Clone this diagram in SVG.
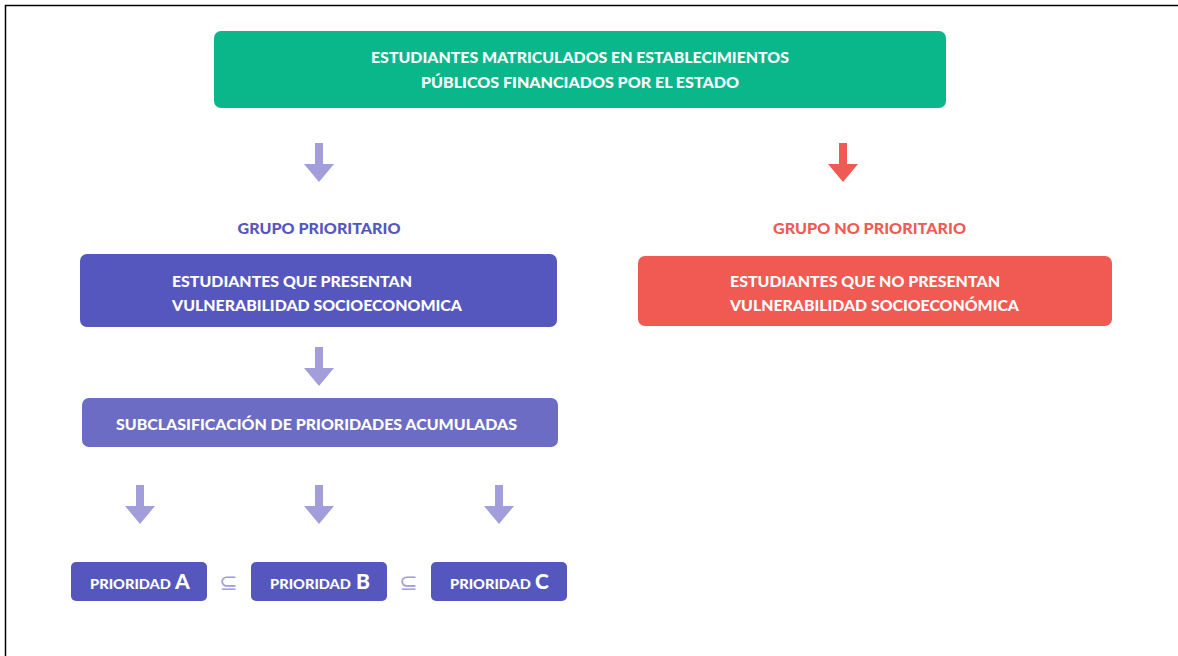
<svg xmlns="http://www.w3.org/2000/svg" width="1178" height="656" viewBox="0 0 1178 656">
<defs>
<style>
.t{font-family:Lato,"Open Sans","Liberation Sans",sans-serif;font-weight:900;fill:#fff;font-size:15px}
.lbl{font-family:Lato,"Open Sans","Liberation Sans",sans-serif;font-weight:900;font-size:15px}
.p{font-size:13px}
.big{font-size:21px}
.arr{fill:#a19edb}
.arrR{fill:#f05a55}
.sub{font-family:"DejaVu Sans",sans-serif;fill:#a19edb;font-size:22px}
</style>
<path id="arrow" d="M-4,0 H4 V21 H15 L0,39 L-15,21 H-4 Z"/>
</defs>
<rect width="1178" height="656" fill="#fff"/>
<path d="M5.5,656 V5.5 H1178" fill="none" stroke="#000" stroke-width="1.5"/>

<g id="connectors">
<use href="#arrow" class="arr" x="319" y="143"/>
<use href="#arrow" class="arrR" x="843" y="143"/>
<use href="#arrow" class="arr" x="319" y="347"/>
<use href="#arrow" class="arr" x="140" y="485"/>
<use href="#arrow" class="arr" x="319" y="485"/>
<use href="#arrow" class="arr" x="499" y="485"/>
</g>

<g id="top">
<rect x="214" y="31" width="732" height="77" rx="7" fill="#0ab78b"/>
<text class="t" x="580" y="62.5" text-anchor="middle" textLength="418" lengthAdjust="spacingAndGlyphs">ESTUDIANTES MATRICULADOS EN ESTABLECIMIENTOS</text>
<text class="t" x="580" y="87.5" text-anchor="middle" textLength="318" lengthAdjust="spacingAndGlyphs">PÚBLICOS FINANCIADOS POR EL ESTADO</text>
</g>

<g id="label-prioritario">
<text class="lbl" x="319" y="234" text-anchor="middle" fill="#5557be" textLength="163" lengthAdjust="spacingAndGlyphs">GRUPO PRIORITARIO</text>
</g>
<g id="label-no-prioritario">
<text class="lbl" x="869.5" y="234" text-anchor="middle" fill="#f05a55" textLength="193" lengthAdjust="spacingAndGlyphs">GRUPO NO PRIORITARIO</text>
</g>

<g id="vulnerable">
<rect x="80" y="254" width="477" height="73" rx="7" fill="#5557be"/>
<text class="t" x="172" y="286.5" textLength="240" lengthAdjust="spacingAndGlyphs">ESTUDIANTES QUE PRESENTAN</text>
<text class="t" x="172" y="310.5" textLength="290" lengthAdjust="spacingAndGlyphs">VULNERABILIDAD SOCIOECONOMICA</text>
</g>

<g id="no-vulnerable">
<rect x="638" y="256" width="474" height="70" rx="7" fill="#f05a53"/>
<text class="t" x="730" y="286.5" textLength="270" lengthAdjust="spacingAndGlyphs">ESTUDIANTES QUE NO PRESENTAN</text>
<text class="t" x="730" y="310.5" textLength="289" lengthAdjust="spacingAndGlyphs">VULNERABILIDAD SOCIOECONÓMICA</text>
</g>

<g id="subclasificacion">
<rect x="82" y="398" width="476" height="49" rx="7" fill="#6c6cc4"/>
<text class="t" x="316.5" y="429.5" text-anchor="middle" textLength="401" lengthAdjust="spacingAndGlyphs">SUBCLASIFICACIÓN DE PRIORIDADES ACUMULADAS</text>
</g>

<g id="prioridad-a">
<rect x="71" y="562" width="136" height="39" rx="5" fill="#5557be"/>
<text class="t p" x="90" y="588.5" textLength="81" lengthAdjust="spacingAndGlyphs">PRIORIDAD</text>
<text class="t big" x="175" y="589">A</text>
</g>
<g id="prioridad-b">
<rect x="251" y="562" width="136" height="39" rx="5" fill="#5557be"/>
<text class="t p" x="270" y="588.5" textLength="81" lengthAdjust="spacingAndGlyphs">PRIORIDAD</text>
<text class="t big" x="356" y="589">B</text>
</g>
<g id="prioridad-c">
<rect x="431" y="562" width="136" height="39" rx="5" fill="#5557be"/>
<text class="t p" x="450" y="588.5" textLength="81" lengthAdjust="spacingAndGlyphs">PRIORIDAD</text>
<text class="t big" x="535" y="589">C</text>
</g>

<g id="subset-symbols">
<text class="sub" x="228.5" y="590" text-anchor="middle">⊆</text>
<text class="sub" x="408.5" y="590" text-anchor="middle">⊆</text>
</g>
</svg>
